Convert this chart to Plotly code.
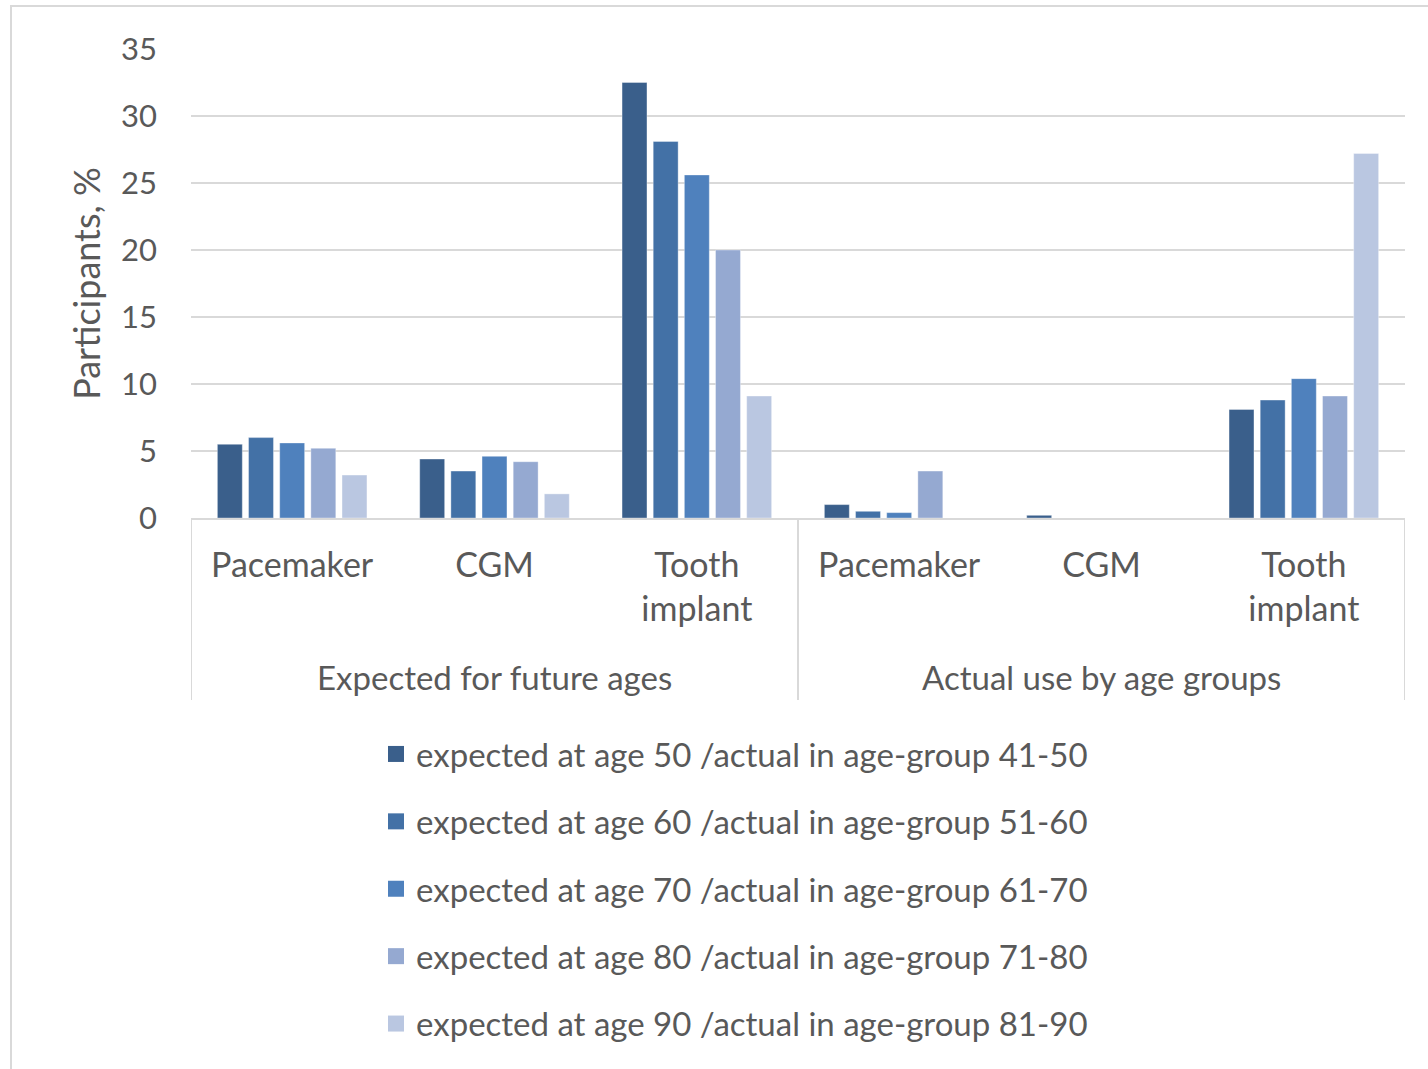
import plotly.graph_objects as go

categories = ["Pacemaker", "CGM", "Tooth<br>implant", "Pacemaker", "CGM", "Tooth<br>implant"]
groups = ["Expected for future ages", "Actual use by age groups"]
series_names = [
    "expected at age 50 /actual in age-group 41-50",
    "expected at age 60 /actual in age-group 51-60",
    "expected at age 70 /actual in age-group 61-70",
    "expected at age 80 /actual in age-group 71-80",
    "expected at age 90 /actual in age-group 81-90",
]
s50 = [5.5, 4.4, 32.5, 1.0, 0.2, 8.1]
s60 = [6.0, 3.5, 28.1, 0.5, 0.0, 8.8]
s70 = [5.6, 4.6, 25.6, 0.4, 0.0, 10.4]
s80 = [5.2, 4.2, 20.0, 3.5, 0.0, 9.1]
s90 = [3.2, 1.8, 9.1, 0.0, 0.0, 27.2]
series_values = [s50, s60, s70, s80, s90]
colors = ["#3A5F8B", "#4371A6", "#4F81BD", "#95A9D1", "#BAC7E1"]
y_ticks = [0, 5, 10, 15, 20, 25, 30, 35]

FONT = "Lato"
TXT = "#595959"
GRID = "#D9D9D9"

xpos = list(range(len(categories)))

fig = go.Figure()
for name, vals, col in zip(series_names, series_values, colors):
    fig.add_trace(go.Bar(
        x=xpos, y=vals, name=name, legendgroup=name, showlegend=False,
        marker=dict(color=col, line=dict(color="rgba(255,255,255,0.35)", width=1)),
    ))
# legend entries (square swatches)
for name, col in zip(series_names, colors):
    fig.add_trace(go.Scatter(
        x=[None], y=[None], mode="markers", name=name, legendgroup=name,
        marker=dict(symbol="square", size=20, color=col), hoverinfo="skip",
    ))

W, H = 1428, 1069
L, R, T, B = 191, 23, 49, 551
ph = H - T - B  # 469
pw = W - L - R

def py(pix):
    return (H - B - pix) / ph

def px(pix):
    return (pix - L) / pw

shapes = []
for xv in [-0.5, 2.5, 5.5]:
    shapes.append(dict(type="line", xref="x", yref="paper", x0=xv, x1=xv,
                       y0=0, y1=py(700), line=dict(color=GRID, width=2)))
shapes.append(dict(type="rect", xref="paper", yref="paper",
                   x0=px(11), x1=px(1440), y0=py(1080), y1=py(6),
                   line=dict(color=GRID, width=2)))

annotations = []
for gx, g in zip([1, 4], groups):
    annotations.append(dict(x=gx, xref="x", y=py(677), yref="paper", text=g,
                            showarrow=False, yanchor="middle", xanchor="center",
                            font=dict(family=FONT, size=33, color=TXT)))

fig.update_layout(
    width=W, height=H,
    margin=dict(l=L, r=R, t=T, b=B, autoexpand=False),
    paper_bgcolor="white", plot_bgcolor="white",
    barmode="group", bargap=0.23, bargroupgap=0.2,
    font=dict(family=FONT, color=TXT, size=31),
    showlegend=True,
    legend=dict(x=px(376), xanchor="left", y=py(726), yanchor="top",
                font=dict(family=FONT, size=33, color=TXT),
                tracegroupgap=21.5, traceorder="grouped", itemsizing="trace",
                bgcolor="rgba(0,0,0,0)"),
    xaxis=dict(tickmode="array", tickvals=xpos, ticktext=categories,
               range=[-0.5, 5.5], showgrid=False, showline=True,
               linecolor=GRID, linewidth=2, ticks="", ticklabelstandoff=16,
               tickfont=dict(family=FONT, size=34, color=TXT), zeroline=False),
    yaxis=dict(range=[0, 35], tickvals=y_ticks, showgrid=True, gridcolor=GRID,
               gridwidth=2, zeroline=False, showline=False, ticks="",
               ticklabelstandoff=33,
               tickfont=dict(family=FONT, size=31, color=TXT),
               title=dict(text="Participants, %", standoff=9,
                          font=dict(family=FONT, size=36, color=TXT))),
    shapes=shapes, annotations=annotations,
)

fig.write_html("out.html")
